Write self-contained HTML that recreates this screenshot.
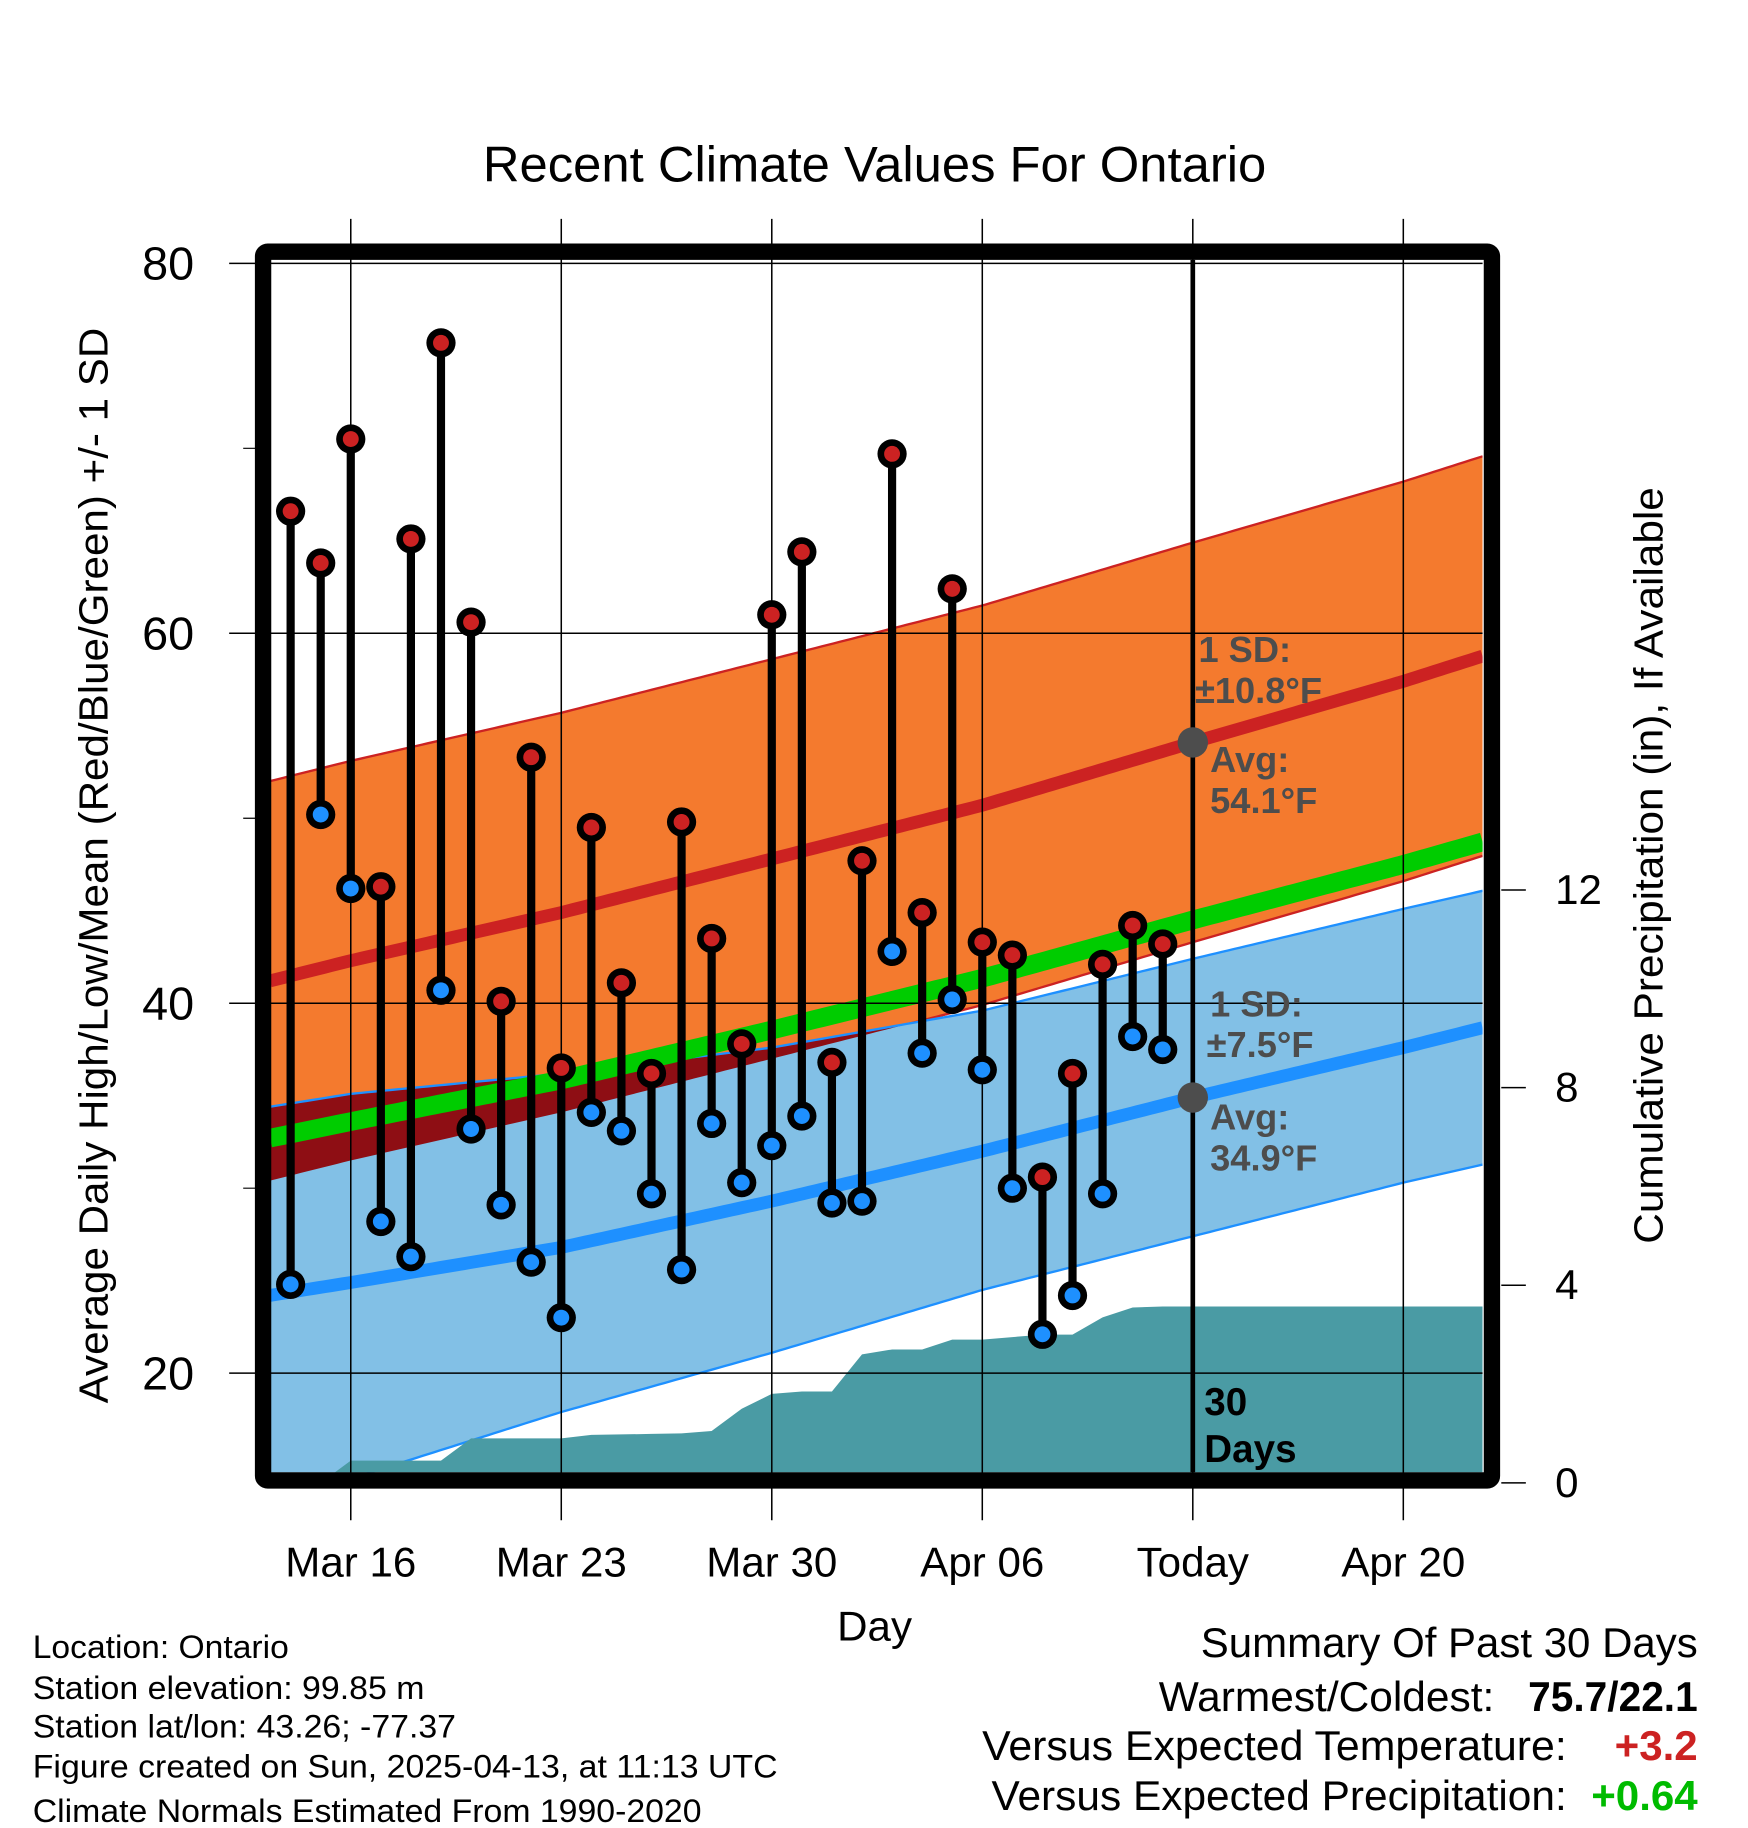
<!DOCTYPE html>
<html><head><meta charset="utf-8"><style>
html,body{margin:0;padding:0;background:#fff;}
svg{display:block;font-family:"Liberation Sans",Arial,sans-serif;}
</style></head><body>
<svg id="chart" width="1748" height="1828" viewBox="0 0 1495 1563" xmlns="http://www.w3.org/2000/svg">
<text x="748" y="155" font-size="43" text-anchor="middle" textLength="670" lengthAdjust="spacingAndGlyphs">Recent Climate Values For Ontario</text>
<g id="plot"></g>
<text transform="translate(92,740) rotate(-90)" font-size="35" text-anchor="middle" textLength="920" lengthAdjust="spacingAndGlyphs">Average Daily High/Low/Mean (Red/Blue/Green) +/- 1 SD</text>
<text transform="translate(1422,740) rotate(-90)" font-size="35" text-anchor="middle" textLength="647" lengthAdjust="spacingAndGlyphs">Cumulative Precipitation (in), If Available</text>
<text x="748" y="1403" font-size="36" text-anchor="middle">Day</text>
<g font-size="28">
<text x="28" y="1418" textLength="219" lengthAdjust="spacingAndGlyphs">Location: Ontario</text>
<text x="28" y="1453" textLength="335" lengthAdjust="spacingAndGlyphs">Station elevation: 99.85 m</text>
<text x="28" y="1486" textLength="362" lengthAdjust="spacingAndGlyphs">Station lat/lon: 43.26; -77.37</text>
<text x="28" y="1520" textLength="637" lengthAdjust="spacingAndGlyphs">Figure created on Sun, 2025-04-13, at 11:13 UTC</text>
<text x="28" y="1558" textLength="572" lengthAdjust="spacingAndGlyphs">Climate Normals Estimated From 1990-2020</text>
</g>
<g font-size="36">
<text x="1452" y="1417" text-anchor="end" textLength="425" lengthAdjust="spacingAndGlyphs">Summary Of Past 30 Days</text>
<text x="1278" y="1463" text-anchor="end" textLength="287" lengthAdjust="spacingAndGlyphs">Warmest/Coldest:</text>
<text x="1452" y="1463" text-anchor="end" font-weight="bold" textLength="145" lengthAdjust="spacingAndGlyphs">75.7/22.1</text>
<text x="1340" y="1505" text-anchor="end" textLength="500" lengthAdjust="spacingAndGlyphs">Versus Expected Temperature:</text>
<text x="1452" y="1505" text-anchor="end" font-weight="bold" fill="#cc2222">+3.2</text>
<text x="1340" y="1548" text-anchor="end" textLength="492" lengthAdjust="spacingAndGlyphs">Versus Expected Precipitation:</text>
<text x="1452" y="1548" text-anchor="end" font-weight="bold" fill="#00bb00">+0.64</text>
</g>
</svg>
<script>
// Daily observations: day offsets from Mar 16
const days = [-2,-1,0,1,2,3,4,5,6,7,8,9,10,11,12,13,14,15,16,17,18,19,20,21,22,23,24,25,26,27];
const highs = [66.6,63.8,70.5,46.3,65.1,75.7,60.6,40.1,53.3,36.5,49.5,41.1,36.2,49.8,43.5,37.8,61.0,64.4,36.8,47.7,69.7,44.9,62.4,43.3,42.6,30.6,36.2,42.1,44.2,43.2];
const lows = [24.8,50.2,46.2,28.2,26.3,40.7,33.2,29.1,26.0,23.0,34.1,33.1,29.7,25.6,33.5,30.3,32.3,33.9,29.2,29.3,42.8,37.3,40.2,36.4,30.0,22.1,24.2,29.7,38.2,37.5];
const precipDays = [-1,0,1,2,3,4,5,6,7,8,9,10,11,12,13,14,15,16,17,18,19,20,21,22,23,24,25,26,27];
const precipCum = [0,0.45,0.45,0.45,0.45,0.9,0.9,0.9,0.9,0.97,0.98,0.99,1.0,1.05,1.5,1.8,1.85,1.85,2.6,2.7,2.7,2.9,2.9,2.95,3.0,3.0,3.35,3.55,3.57];
// Climate normals at knot days
const normDays = [-2.7,0,7,14,21,28,35,37.7];
const normHighMean = [41.2,42.3,44.9,47.8,50.7,54.1,57.4,58.8];
const normHighSD = 10.8;
const normLowMean = [24.2,24.9,26.8,29.3,32.0,34.9,37.6,38.7];
const normLowUpper = [34.4,35.1,36.2,37.6,39.6,42.4,45.1,46.1];
const normLowLower = [13.0,14.3,17.9,21.1,24.5,27.4,30.3,31.3];
const yTicks = [20,40,60,80];
const yMinor = [30,50,70];
const pTicks = [0,4,8,12];
const xTickDays = [0,7,14,21,28,35];
const xTickLabels = ["Mar 16","Mar 23","Mar 30","Apr 06","Today","Apr 20"];

const NS = "http://www.w3.org/2000/svg";
const L = 231, R = 1268, T = 222, B = 1259;
const x = d => 300 + d * 25.72;
const y = v => 225 + (80 - v) * 15.82;
const yp = p => 1268 - p * 42.25;
const dMin = (L - 300) / 25.72, dMax = (R - 300) / 25.72;
function interp(arr, d){
  for(let i=0;i<normDays.length-1;i++){
    if(d<=normDays[i+1]||i===normDays.length-2){
      const t=(d-normDays[i])/(normDays[i+1]-normDays[i]);
      return arr[i]+(arr[i+1]-arr[i])*t;
    }
  }
}
const plot = document.getElementById('plot');
function mk(tag, attrs, parent){
  const e=document.createElementNS(NS,tag);
  for(const k in attrs) e.setAttribute(k,attrs[k]);
  (parent||plot).appendChild(e); return e;
}
const clip = mk('clipPath',{id:'pc'}); mk('rect',{x:L,y:T,width:R-L,height:B-T},clip);
const g = mk('g',{'clip-path':'url(#pc)'});
const N=200, samples=[];
for(let i=0;i<=N;i++) samples.push(dMin+(dMax-dMin)*i/N);
function band(up, lo, fill, name){
  let pts=samples.map(d=>x(d)+','+y(up(d)));
  pts=pts.concat(samples.slice().reverse().map(d=>x(d)+','+y(lo(d))));
  const p=mk('polygon',{points:pts.join(' '),fill:fill},g);
  
  
  return p;
}
function curve(f, stroke, w, name){
  const p=mk('polyline',{points:samples.map(d=>x(d)+','+y(f(d))).join(' '),fill:'none',stroke:stroke,'stroke-width':w},g);
  
  
}
const hiUp=d=>interp(normHighMean,d)+normHighSD, hiLo=d=>interp(normHighMean,d)-normHighSD;
const loUp=d=>interp(normLowUpper,d), loLo=d=>interp(normLowLower,d);
band(hiUp,hiLo,'#f47a2e','high-sd-band');
curve(hiUp,'#cc2222',2,'high-sd-upper');
curve(hiLo,'#cc2222',2,'high-sd-lower');
band(loUp,loLo,'#82c0e6','low-sd-band');
{
  const seg=samples.filter(d=>Math.min(hiUp(d),loUp(d))>Math.max(hiLo(d),loLo(d)));
  if(seg.length){
    let pts=seg.map(d=>x(d)+','+y(Math.min(hiUp(d),loUp(d))));
    pts=pts.concat(seg.slice().reverse().map(d=>x(d)+','+y(Math.max(hiLo(d),loLo(d)))));
    const p=mk('polygon',{points:pts.join(' '),fill:'#8e0e14'},g);
    
    
  }
}
curve(loUp,'#1e90ff',2,'low-sd-upper');
curve(loLo,'#1e90ff',2,'low-sd-lower');
{
  let pts=[x(precipDays[0])+','+yp(0)];
  precipDays.forEach((d,i)=>pts.push(x(d)+','+yp(precipCum[i])));
  pts.push(R+','+yp(precipCum[precipCum.length-1]));
  pts.push(R+','+(B+10));
  pts.push(x(precipDays[0])+','+(B+10));
  const p=mk('polygon',{points:pts.join(' '),fill:'#4a9ba4'},g);
  
  
}
curve(d=>(interp(normHighMean,d)+interp(normLowMean,d))/2,'#00cc00',16,'normal-mean-line');
curve(d=>interp(normHighMean,d),'#cc2222',11,'normal-high-line');
curve(d=>interp(normLowMean,d),'#1e90ff',11,'normal-low-line');
yTicks.forEach(v=>{
  const l=mk('line',{x1:196,x2:R,y1:y(v),y2:y(v),stroke:'#000','stroke-width':1.3});
  
  
  const t=mk('text',{x:166,y:y(v)+14,'font-size':40,'text-anchor':'end'}); t.textContent=v;
  
  
});
yMinor.forEach(v=>{
  const l=mk('line',{x1:208,x2:L,y1:y(v),y2:y(v),stroke:'#000','stroke-width':1});
  
  
});
xTickDays.forEach((d,i)=>{
  const l=mk('line',{x1:x(d),x2:x(d),y1:187,y2:1300,stroke:'#000','stroke-width':1.3});
  
  
  const t=mk('text',{x:x(d),y:1348,'font-size':36,'text-anchor':'middle'}); t.textContent=xTickLabels[i];
  
  
});
pTicks.forEach(p=>{
  const l=mk('line',{x1:1284,x2:1305,y1:yp(p),y2:yp(p),stroke:'#000','stroke-width':1.3});
  
  
  const t=mk('text',{x:1330,y:yp(p)+12,'font-size':36}); t.textContent=p;
  
  
});
{
  const l=mk('line',{x1:x(28),x2:x(28),y1:T,y2:B,stroke:'#000','stroke-width':4});
  
  
}
days.forEach((d,i)=>{
  const s=mk('line',{x1:x(d),x2:x(d),y1:y(highs[i]),y2:y(lows[i]),stroke:'#000','stroke-width':7});
  
  
  [[highs[i],'#cc2222','high-dot'],[lows[i],'#1e90ff','low-dot']].forEach(([v,c,n])=>{
    const o=mk('circle',{cx:x(d),cy:y(v),r:12.5,fill:'#000'});
    
    
    const c2=mk('circle',{cx:x(d),cy:y(v),r:6.8,fill:c});
    
    
  });
});
[interp(normHighMean,28),interp(normLowMean,28)].forEach(v=>{
  const c=mk('circle',{cx:x(28),cy:y(v),r:13,fill:'#4d4d4d'});
  
  
});
const ann=[["1 SD:",1025,566],["±10.8°F",1022,601],["Avg:",1035,660],["54.1°F",1035,695],["1 SD:",1035,869],["±7.5°F",1032,904],["Avg:",1035,966],["34.9°F",1035,1001]];
ann.forEach(a=>{
  const t=mk('text',{x:a[1],y:a[2],'font-size':31,'font-weight':'bold',fill:'#4d4d4d'}); t.textContent=a[0];
  
  
});
[["30",1030,1210],["Days",1030,1250]].forEach(a=>{
  const t=mk('text',{x:a[1],y:a[2],'font-size':33,'font-weight':'bold',fill:'#000'}); t.textContent=a[0];
  
  
});
{
  const f=mk('rect',{x:225,y:215,width:1051,height:1051,rx:4,fill:'none',stroke:'#000','stroke-width':14});
  
  
}
</script>
</body></html>
